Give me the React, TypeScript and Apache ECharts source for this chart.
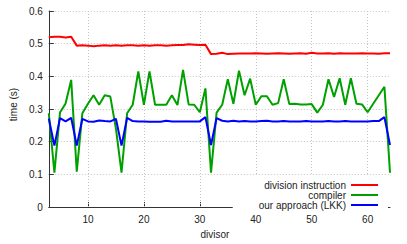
import React, { useEffect, useRef } from "react";
import * as echarts from "echarts";

const divisors = [3, 4, 5, 6, 7, 8, 9, 10, 11, 12, 13, 14, 15, 16, 17, 18, 19, 20, 21, 22, 23, 24, 25, 26, 27, 28, 29, 30, 31, 32, 33, 34, 35, 36, 37, 38, 39, 40, 41, 42, 43, 44, 45, 46, 47, 48, 49, 50, 51, 52, 53, 54, 55, 56, 57, 58, 59, 60, 61, 62, 63, 64];

const divisionInstruction = [0.52, 0.521, 0.521, 0.519, 0.521, 0.494, 0.495, 0.494, 0.492, 0.494, 0.495, 0.494, 0.495, 0.494, 0.495, 0.495, 0.494, 0.495, 0.494, 0.495, 0.495, 0.494, 0.495, 0.496, 0.496, 0.498, 0.497, 0.496, 0.497, 0.468, 0.469, 0.472, 0.468, 0.469, 0.47, 0.47, 0.47, 0.471, 0.47, 0.469, 0.47, 0.471, 0.47, 0.469, 0.47, 0.471, 0.469, 0.472, 0.47, 0.47, 0.471, 0.469, 0.471, 0.47, 0.47, 0.47, 0.471, 0.47, 0.47, 0.469, 0.471, 0.471];

const compiler = [0.287, 0.105, 0.289, 0.317, 0.389, 0.108, 0.287, 0.316, 0.342, 0.313, 0.342, 0.338, 0.24, 0.105, 0.287, 0.313, 0.415, 0.313, 0.415, 0.313, 0.313, 0.313, 0.342, 0.312, 0.42, 0.314, 0.313, 0.29, 0.363, 0.105, 0.289, 0.313, 0.391, 0.316, 0.417, 0.342, 0.393, 0.313, 0.339, 0.339, 0.313, 0.318, 0.391, 0.315, 0.316, 0.314, 0.314, 0.315, 0.289, 0.313, 0.391, 0.337, 0.394, 0.313, 0.394, 0.316, 0.314, 0.29, 0.316, 0.342, 0.368, 0.105];

const ourApproach = [0.271, 0.188, 0.272, 0.262, 0.273, 0.188, 0.27, 0.262, 0.261, 0.265, 0.263, 0.262, 0.27, 0.188, 0.273, 0.263, 0.262, 0.262, 0.261, 0.261, 0.261, 0.264, 0.262, 0.262, 0.262, 0.262, 0.262, 0.262, 0.275, 0.19, 0.272, 0.264, 0.262, 0.264, 0.262, 0.263, 0.262, 0.262, 0.263, 0.264, 0.262, 0.262, 0.263, 0.262, 0.262, 0.262, 0.263, 0.262, 0.262, 0.262, 0.263, 0.262, 0.262, 0.263, 0.262, 0.262, 0.262, 0.262, 0.263, 0.263, 0.275, 0.19];

const xTicks = [10, 20, 30, 40, 50, 60];
const seriesNames = ["division instruction", "compiler", "our approach (LKK)"];
const seriesColors = ["#ff0000", "#00a000", "#0000ff"];

const FONT = "Liberation Sans, Arial, sans-serif";
const TEXT = "#222";

export default function App() {
  const ref = useRef<HTMLDivElement>(null);

  useEffect(() => {
    if (!ref.current) return;
    const chart = echarts.init(ref.current, null, { renderer: "svg" });
    const values = [divisionInstruction, compiler, ourApproach];
    const gridLine = { color: "#c4c4c4", width: 1, type: [1, 2] as number[] };

    const lineSeries = seriesNames.map((name, i) => ({
      name,
      type: "line",
      data: divisors.map((d, j) => [d, values[i][j]]),
      color: seriesColors[i],
      symbol: "none",
      showSymbol: false,
      lineStyle: { width: 2, color: seriesColors[i] },
      z: 2,
    }));

    chart.setOption({
      animation: false,
      textStyle: { fontFamily: FONT },
      grid: { left: 48, right: 17, top: 11, bottom: 32, containLabel: false },
      legend: {
        data: seriesNames,
        orient: "vertical",
        align: "right",
        right: 19,
        top: 175,
        padding: [5, 10, 1, 26],
        backgroundColor: "#ffffff",
        itemWidth: 27,
        itemHeight: 2,
        itemGap: 0,
        icon: "rect",
        selectedMode: false,
        textStyle: { fontSize: 10, color: TEXT, fontFamily: FONT, lineHeight: 10 },
      },
      xAxis: {
        type: "value",
        min: 3,
        max: 64,
        name: "divisor",
        nameLocation: "middle",
        nameGap: 22,
        nameTextStyle: { fontSize: 10, color: TEXT, fontFamily: FONT, padding: [0, 9, 0, 0] },
        axisLine: { show: true, lineStyle: { color: "#333", width: 1 } },
        axisTick: { show: true, inside: true, length: 5, customValues: xTicks, lineStyle: { color: "#333" } },
        axisLabel: { customValues: xTicks, fontSize: 10, color: TEXT, margin: 7, fontFamily: FONT },
        splitLine: { show: false },
      },
      yAxis: {
        type: "value",
        min: 0,
        max: 0.6,
        interval: 0.1,
        name: "time (s)",
        nameLocation: "middle",
        nameGap: 30,
        nameTextStyle: { fontSize: 10, color: TEXT, fontFamily: FONT, padding: [0, 0, 0, 9] },
        axisLine: { show: true, lineStyle: { color: "#333", width: 1 } },
        axisTick: { show: true, inside: true, length: 5, lineStyle: { color: "#333" } },
        axisLabel: { fontSize: 10, color: TEXT, margin: 6, fontFamily: FONT },
        splitLine: { show: true, lineStyle: gridLine },
      },
      series: [
        {
          name: "grid",
          type: "line",
          data: [],
          silent: true,
          z: 1,
          markLine: {
            silent: true,
            z: 1,
            symbol: ["none", "none"],
            label: { show: false },
            lineStyle: gridLine,
            emphasis: { disabled: true },
            data: xTicks.map((v) => ({ xAxis: v })),
          },
        },
        ...lineSeries,
      ],
    });

    return () => chart.dispose();
  }, []);

  return (
    <div
      ref={ref}
      style={{ position: "fixed", left: 0, top: 0, width: 407, height: 244, background: "#fff" }}
    />
  );
}
